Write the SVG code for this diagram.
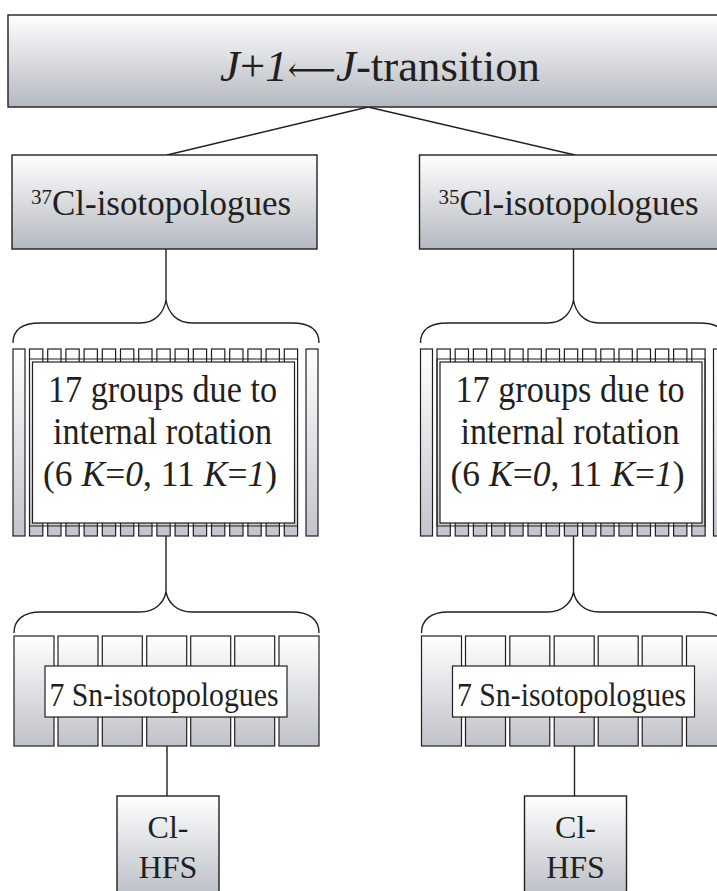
<svg xmlns="http://www.w3.org/2000/svg" width="717" height="891" viewBox="0 0 717 891">
<defs>
<linearGradient id="gBox" x1="0" y1="0" x2="0" y2="1">
<stop offset="0" stop-color="#ffffff"/>
<stop offset="1" stop-color="#b4b8c0"/>
</linearGradient>
<linearGradient id="gBarT" gradientUnits="userSpaceOnUse" x1="0" y1="349" x2="0" y2="536">
<stop offset="0" stop-color="#ffffff"/>
<stop offset="1" stop-color="#c2c5cc"/>
</linearGradient>
<linearGradient id="gSn" gradientUnits="userSpaceOnUse" x1="0" y1="636" x2="0" y2="746">
<stop offset="0" stop-color="#ffffff"/>
<stop offset="1" stop-color="#bfc2c9"/>
</linearGradient>
</defs>
<style>
.box{fill:url(#gBox);stroke:#231f20;stroke-width:1.4}
.bar{fill:url(#gBarT);stroke:#231f20;stroke-width:1.2}
.sn{fill:url(#gSn);stroke:#231f20;stroke-width:1.2}
.white{fill:#ffffff;stroke:#231f20;stroke-width:1.2}
.frame{fill:none;stroke:#231f20;stroke-width:1}
.line{fill:none;stroke:#231f20;stroke-width:1.4}
text{font-family:"Liberation Serif","Times New Roman",serif;fill:#231f20;text-anchor:middle}
.it{font-style:italic}
</style>
<g id="connectors">
<line class="line" x1="368" y1="107" x2="167" y2="155"/>
<line class="line" x1="368" y1="107" x2="575" y2="155"/>
<g id="conn-left">
<line class="line" x1="166" y1="249" x2="166" y2="300"/>
<path class="line" d="M13,343 C13,330 22,323 40,323 L140,323 C156,323 164,312 166,300 C168,312 176,323 192,323 L292,323 C310,323 319,330 319,343"/>
<line class="line" x1="166" y1="536" x2="166" y2="592"/>
<path class="line" d="M14,633 C14,620 23,612 41,612 L140,612 C156,612 164,602 166,592 C168,602 176,612 192,612 L292,612 C310,612 319,620 319,633"/>
<line class="line" x1="167" y1="746" x2="167" y2="796"/>
</g>
<g id="conn-right" transform="translate(407.5,0)">
<line class="line" x1="166" y1="249" x2="166" y2="300"/>
<path class="line" d="M13,343 C13,330 22,323 40,323 L140,323 C156,323 164,312 166,300 C168,312 176,323 192,323 L292,323 C310,323 319,330 319,343"/>
<line class="line" x1="166" y1="536" x2="166" y2="592"/>
<path class="line" d="M14,633 C14,620 23,612 41,612 L140,612 C156,612 164,602 166,592 C168,602 176,612 192,612 L292,612 C310,612 319,620 319,633"/>
<line class="line" x1="167" y1="746" x2="167" y2="796"/>
</g>
</g>
<g id="top">
<rect class="box" x="8" y="15" width="760" height="92"/>
<text x="380" y="81" font-size="45" textLength="320" lengthAdjust="spacingAndGlyphs"><tspan class="it">J</tspan>+<tspan class="it">1</tspan><tspan font-family="'DejaVu Serif','DejaVu Sans',sans-serif" font-size="34">⟵</tspan><tspan class="it">J</tspan>-transition</text>
</g>
<g id="cl37">
<rect class="box" x="12" y="155" width="305" height="94"/>
<text x="161" y="215" font-size="35"><tspan font-size="21" dy="-11">37</tspan><tspan dy="11">Cl-isotopologues</tspan></text>
</g>
<g id="cl35">
<rect class="box" x="419.5" y="155" width="305" height="94"/>
<text x="568.5" y="215" font-size="35"><tspan font-size="21" dy="-11">35</tspan><tspan dy="11">Cl-isotopologues</tspan></text>
</g>
<g id="groups37">
<rect class="bar" x="13" y="349" width="12" height="187"/>
<rect class="bar" x="29.5" y="349" width="13.3" height="187"/>
<rect class="bar" x="47.7" y="349" width="13.3" height="187"/>
<rect class="bar" x="65.9" y="349" width="13.3" height="187"/>
<rect class="bar" x="84.1" y="349" width="13.3" height="187"/>
<rect class="bar" x="102.3" y="349" width="13.3" height="187"/>
<rect class="bar" x="120.5" y="349" width="13.3" height="187"/>
<rect class="bar" x="138.7" y="349" width="13.3" height="187"/>
<rect class="bar" x="156.9" y="349" width="13.3" height="187"/>
<rect class="bar" x="175.1" y="349" width="13.3" height="187"/>
<rect class="bar" x="193.3" y="349" width="13.3" height="187"/>
<rect class="bar" x="211.5" y="349" width="13.3" height="187"/>
<rect class="bar" x="229.7" y="349" width="13.3" height="187"/>
<rect class="bar" x="247.9" y="349" width="13.3" height="187"/>
<rect class="bar" x="266.1" y="349" width="13.3" height="187"/>
<rect class="bar" x="284.3" y="349" width="13.3" height="187"/>
<rect class="bar" x="306" y="349" width="12" height="187"/>
<rect class="frame" x="29.5" y="359" width="268" height="167"/>
<rect class="white" x="32.5" y="362" width="262" height="161"/>
<text x="162.5" y="402" font-size="38" textLength="229" lengthAdjust="spacingAndGlyphs">17 groups due to</text>
<text x="162.5" y="444" font-size="38" textLength="219" lengthAdjust="spacingAndGlyphs">internal rotation</text>
<text x="160" y="486" font-size="35.5">(6 <tspan class="it">K</tspan>=<tspan class="it">0</tspan>, 11 <tspan class="it">K</tspan>=<tspan class="it">1</tspan>)</text>
</g>
<g id="groups35" transform="translate(407.5,0)">
<rect class="bar" x="13" y="349" width="12" height="187"/>
<rect class="bar" x="29.5" y="349" width="13.3" height="187"/>
<rect class="bar" x="47.7" y="349" width="13.3" height="187"/>
<rect class="bar" x="65.9" y="349" width="13.3" height="187"/>
<rect class="bar" x="84.1" y="349" width="13.3" height="187"/>
<rect class="bar" x="102.3" y="349" width="13.3" height="187"/>
<rect class="bar" x="120.5" y="349" width="13.3" height="187"/>
<rect class="bar" x="138.7" y="349" width="13.3" height="187"/>
<rect class="bar" x="156.9" y="349" width="13.3" height="187"/>
<rect class="bar" x="175.1" y="349" width="13.3" height="187"/>
<rect class="bar" x="193.3" y="349" width="13.3" height="187"/>
<rect class="bar" x="211.5" y="349" width="13.3" height="187"/>
<rect class="bar" x="229.7" y="349" width="13.3" height="187"/>
<rect class="bar" x="247.9" y="349" width="13.3" height="187"/>
<rect class="bar" x="266.1" y="349" width="13.3" height="187"/>
<rect class="bar" x="284.3" y="349" width="13.3" height="187"/>
<rect class="bar" x="306" y="349" width="12" height="187"/>
<rect class="frame" x="29.5" y="359" width="268" height="167"/>
<rect class="white" x="32.5" y="362" width="262" height="161"/>
<text x="162.5" y="402" font-size="38" textLength="229" lengthAdjust="spacingAndGlyphs">17 groups due to</text>
<text x="162.5" y="444" font-size="38" textLength="219" lengthAdjust="spacingAndGlyphs">internal rotation</text>
<text x="160" y="486" font-size="35.5">(6 <tspan class="it">K</tspan>=<tspan class="it">0</tspan>, 11 <tspan class="it">K</tspan>=<tspan class="it">1</tspan>)</text>
</g>
<g id="sn37">
<rect class="sn" x="14" y="636" width="40" height="110"/>
<rect class="sn" x="58" y="636" width="40" height="110"/>
<rect class="sn" x="102.3" y="636" width="40" height="110"/>
<rect class="sn" x="146.7" y="636" width="40" height="110"/>
<rect class="sn" x="190.7" y="636" width="40" height="110"/>
<rect class="sn" x="234.7" y="636" width="40" height="110"/>
<rect class="sn" x="279" y="636" width="40" height="110"/>
<rect class="white" x="45" y="666" width="242" height="51"/>
<text x="164" y="706" font-size="34" textLength="229" lengthAdjust="spacingAndGlyphs">7 Sn-isotopologues</text>
</g>
<g id="sn35" transform="translate(407.5,0)">
<rect class="sn" x="14" y="636" width="40" height="110"/>
<rect class="sn" x="58" y="636" width="40" height="110"/>
<rect class="sn" x="102.3" y="636" width="40" height="110"/>
<rect class="sn" x="146.7" y="636" width="40" height="110"/>
<rect class="sn" x="190.7" y="636" width="40" height="110"/>
<rect class="sn" x="234.7" y="636" width="40" height="110"/>
<rect class="sn" x="279" y="636" width="40" height="110"/>
<rect class="white" x="45" y="666" width="242" height="51"/>
<text x="164" y="706" font-size="34" textLength="229" lengthAdjust="spacingAndGlyphs">7 Sn-isotopologues</text>
</g>
<g id="hfs37">
<rect class="box" x="117" y="796" width="102" height="110"/>
<text x="168" y="838" font-size="32">Cl-</text>
<text x="168" y="878" font-size="32">HFS</text>
</g>
<g id="hfs35">
<rect class="box" x="524.5" y="796" width="102" height="110"/>
<text x="575.5" y="838" font-size="32">Cl-</text>
<text x="575.5" y="878" font-size="32">HFS</text>
</g>
</svg>
